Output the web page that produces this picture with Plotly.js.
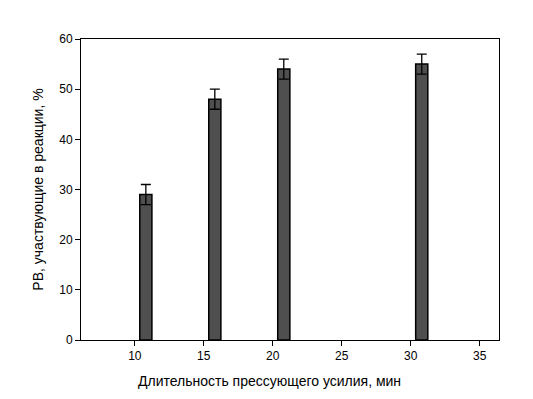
<!DOCTYPE html>
<html>
<head>
<meta charset="utf-8">
<script src="https://cdn.plot.ly/plotly-3.0.1.min.js"></script>
<style>html,body{margin:0;padding:0;background:#fff;}#chart{width:533px;height:399px;}</style>
</head>
<body>
<div id="chart"></div>
<script>
const durations = [10.8, 15.8, 20.8, 30.8];
const reacting = [29, 48, 54, 55];
const errors = [2, 2, 2, 2];
const xTicks = [10, 15, 20, 25, 30, 35];
const yTicks = [0, 10, 20, 30, 40, 50, 60];
const xTitle = 'Длительность прессующего усилия, мин';
const yTitle = 'РВ, участвующие в реакции, %';

const trace = {
  type: 'bar',
  x: durations,
  y: reacting,
  width: 0.88,
  marker: {color: '#4f4f4f', line: {color: '#000', width: 1.5}},
  error_y: {type: 'data', array: errors, visible: true, color: '#000', thickness: 1.3, width: 5},
  hoverinfo: 'none'
};

const fontFam = 'Arial, "Liberation Sans", sans-serif';
const layout = {
  width: 533, height: 399,
  margin: {l: 81, r: 34, t: 39, b: 59},
  paper_bgcolor: '#fff', plot_bgcolor: '#fff',
  showlegend: false,
  font: {family: fontFam, size: 12, color: '#000'},
  xaxis: {
    range: [6.1, 36.4],
    tickvals: xTicks, ticktext: xTicks.map(String),
    ticks: 'outside', ticklen: 5, tickwidth: 1, tickcolor: '#000',
    showline: true, linecolor: '#000', linewidth: 1, mirror: true,
    showgrid: false, zeroline: false,
    tickfont: {family: fontFam, size: 12, color: '#000'}
  },
  yaxis: {
    range: [0, 60],
    tickvals: yTicks, ticktext: yTicks.map(String),
    ticks: 'outside', ticklen: 5, tickwidth: 1, tickcolor: '#000',
    showline: true, linecolor: '#000', linewidth: 1, mirror: true,
    showgrid: false, zeroline: false,
    tickfont: {family: fontFam, size: 12, color: '#000'},
    title: {text: yTitle, font: {family: fontFam, size: 14, color: '#000'}, standoff: 12}
  },
  annotations: [{
    text: xTitle, xref: 'paper', yref: 'paper', x: 0.45, y: -0.135,
    xanchor: 'center', yanchor: 'middle', showarrow: false,
    font: {family: fontFam, size: 14, color: '#000'}
  }]
};

Plotly.newPlot('chart', [trace], layout, {displayModeBar: false, staticPlot: true});
</script>
</body>
</html>
